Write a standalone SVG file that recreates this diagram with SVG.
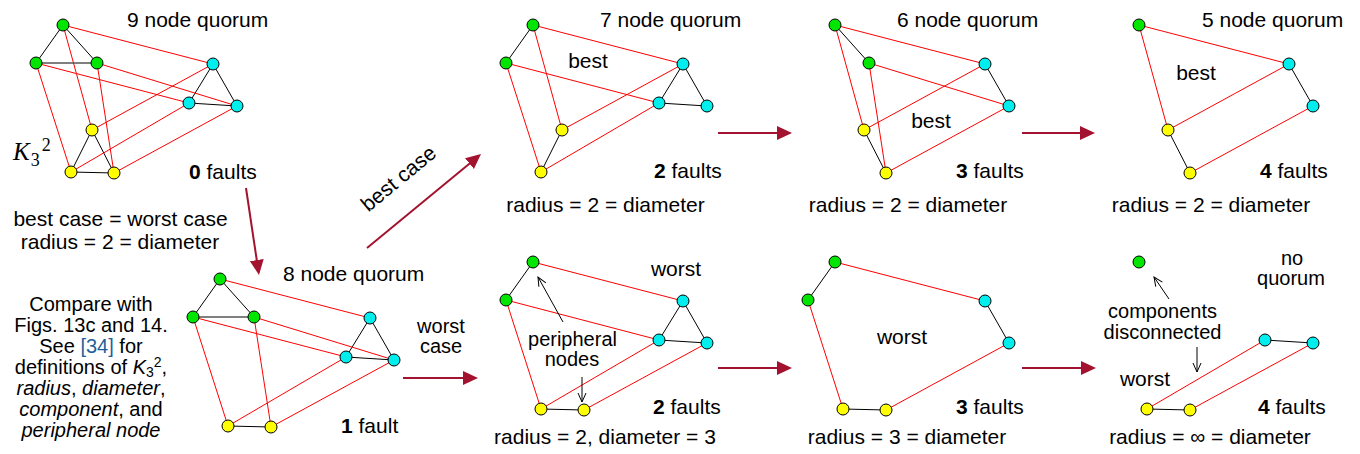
<svg xmlns="http://www.w3.org/2000/svg" width="1360" height="454" viewBox="0 0 1360 454">
<style>
text{font-family:"Liberation Sans",Arial,sans-serif;font-size:21px;fill:#000}
.s{font-size:20px}
.m{text-anchor:middle}
.b{font-weight:bold}
.i{font-style:italic}
.r{stroke:#ff0000;stroke-width:1;fill:none}
.bl{stroke:#000;stroke-width:1;fill:none}
.g{fill:#00e600;stroke:#000;stroke-width:1}
.c{fill:#00eeee;stroke:#000;stroke-width:1}
.y{fill:#ffff00;stroke:#000;stroke-width:1}
.arr{stroke:#a3122e;stroke-width:2;fill:none;marker-end:url(#ah)}
.ann{stroke:#000;stroke-width:1;fill:none;marker-end:url(#oa)}
</style>
<defs>
<marker id="ah" markerUnits="userSpaceOnUse" markerWidth="16" markerHeight="16" viewBox="0 0 16 16" refX="5" refY="8" orient="auto"><path d="M0,1 L15,8 L0,15 z" fill="#a3122e"/></marker>
<marker id="oa" markerUnits="userSpaceOnUse" markerWidth="12" markerHeight="10" viewBox="0 0 12 10" refX="10" refY="5" orient="auto"><path d="M1,1 L10,5 L1,9" fill="none" stroke="#000" stroke-width="1"/></marker>
</defs>
<rect width="1360" height="454" fill="#fff"/>

<g id="connectors">
 <g transform="translate(0,0)">
  <line class="bl" x1="63" y1="25" x2="36" y2="63"/><line class="bl" x1="63" y1="25" x2="97" y2="63"/><line class="bl" x1="36" y1="63" x2="97" y2="63"/>
  <line class="bl" x1="213" y1="64" x2="189" y2="103"/><line class="bl" x1="213" y1="64" x2="237" y2="106"/><line class="bl" x1="189" y1="103" x2="237" y2="106"/>
  <line class="bl" x1="92" y1="130" x2="71" y2="172"/><line class="bl" x1="92" y1="130" x2="114" y2="173"/><line class="bl" x1="71" y1="172" x2="114" y2="173"/>
  <line class="r" x1="63" y1="25" x2="213" y2="64"/><line class="r" x1="63" y1="25" x2="92" y2="130"/><line class="r" x1="213" y1="64" x2="92" y2="130"/>
  <line class="r" x1="36" y1="63" x2="189" y2="103"/><line class="r" x1="36" y1="63" x2="71" y2="172"/><line class="r" x1="189" y1="103" x2="71" y2="172"/>
  <line class="r" x1="97" y1="63" x2="237" y2="106"/><line class="r" x1="97" y1="63" x2="114" y2="173"/><line class="r" x1="237" y1="106" x2="114" y2="173"/>
 </g>
 <g transform="translate(157,254)">
  <line class="bl" x1="63" y1="25" x2="36" y2="63"/><line class="bl" x1="63" y1="25" x2="97" y2="63"/><line class="bl" x1="36" y1="63" x2="97" y2="63"/>
  <line class="bl" x1="213" y1="64" x2="189" y2="103"/><line class="bl" x1="213" y1="64" x2="237" y2="106"/><line class="bl" x1="189" y1="103" x2="237" y2="106"/>
  <line class="bl" x1="71" y1="172" x2="114" y2="173"/>
  <line class="r" x1="63" y1="25" x2="213" y2="64"/>
  <line class="r" x1="36" y1="63" x2="189" y2="103"/><line class="r" x1="36" y1="63" x2="71" y2="172"/><line class="r" x1="189" y1="103" x2="71" y2="172"/>
  <line class="r" x1="97" y1="63" x2="237" y2="106"/><line class="r" x1="97" y1="63" x2="114" y2="173"/><line class="r" x1="237" y1="106" x2="114" y2="173"/>
 </g>
 <g transform="translate(470,0)">
  <line class="bl" x1="63" y1="25" x2="36" y2="63"/>
  <line class="bl" x1="213" y1="64" x2="189" y2="103"/><line class="bl" x1="213" y1="64" x2="237" y2="106"/><line class="bl" x1="189" y1="103" x2="237" y2="106"/>
  <line class="bl" x1="92" y1="130" x2="71" y2="172"/>
  <line class="r" x1="63" y1="25" x2="213" y2="64"/><line class="r" x1="63" y1="25" x2="92" y2="130"/><line class="r" x1="213" y1="64" x2="92" y2="130"/>
  <line class="r" x1="36" y1="63" x2="189" y2="103"/><line class="r" x1="36" y1="63" x2="71" y2="172"/><line class="r" x1="189" y1="103" x2="71" y2="172"/>
 </g>
 <g transform="translate(772,0)">
  <line class="bl" x1="63" y1="25" x2="97" y2="63"/>
  <line class="bl" x1="213" y1="64" x2="237" y2="106"/>
  <line class="bl" x1="92" y1="130" x2="114" y2="173"/>
  <line class="r" x1="63" y1="25" x2="213" y2="64"/><line class="r" x1="63" y1="25" x2="92" y2="130"/><line class="r" x1="213" y1="64" x2="92" y2="130"/>
  <line class="r" x1="97" y1="63" x2="237" y2="106"/><line class="r" x1="97" y1="63" x2="114" y2="173"/><line class="r" x1="237" y1="106" x2="114" y2="173"/>
 </g>
 <g transform="translate(1076,0)">
  <line class="bl" x1="213" y1="64" x2="237" y2="106"/>
  <line class="bl" x1="92" y1="130" x2="114" y2="173"/>
  <line class="r" x1="63" y1="25" x2="213" y2="64"/><line class="r" x1="63" y1="25" x2="92" y2="130"/><line class="r" x1="213" y1="64" x2="92" y2="130"/>
  <line class="r" x1="237" y1="106" x2="114" y2="173"/>
 </g>
 <g transform="translate(470,237)">
  <line class="bl" x1="63" y1="25" x2="36" y2="63"/>
  <line class="bl" x1="213" y1="64" x2="189" y2="103"/><line class="bl" x1="213" y1="64" x2="237" y2="106"/><line class="bl" x1="189" y1="103" x2="237" y2="106"/>
  <line class="bl" x1="71" y1="172" x2="114" y2="173"/>
  <line class="r" x1="63" y1="25" x2="213" y2="64"/>
  <line class="r" x1="36" y1="63" x2="189" y2="103"/><line class="r" x1="36" y1="63" x2="71" y2="172"/><line class="r" x1="189" y1="103" x2="71" y2="172"/>
  <line class="r" x1="237" y1="106" x2="114" y2="173"/>
 </g>
 <g transform="translate(772,237)">
  <line class="bl" x1="63" y1="25" x2="36" y2="63"/>
  <line class="bl" x1="213" y1="64" x2="237" y2="106"/>
  <line class="bl" x1="71" y1="172" x2="114" y2="173"/>
  <line class="r" x1="63" y1="25" x2="213" y2="64"/>
  <line class="r" x1="36" y1="63" x2="71" y2="172"/>
  <line class="r" x1="237" y1="106" x2="114" y2="173"/>
 </g>
 <g transform="translate(1076,237)">
  <line class="bl" x1="189" y1="103" x2="237" y2="106"/>
  <line class="bl" x1="71" y1="172" x2="114" y2="173"/>
  <line class="r" x1="189" y1="103" x2="71" y2="172"/>
  <line class="r" x1="237" y1="106" x2="114" y2="173"/>
 </g>
 <line class="arr" x1="246" y1="188" x2="257.5" y2="265"/>
 <line class="arr" x1="367" y1="248" x2="473.3" y2="160.4"/>
 <line class="arr" x1="403" y1="378" x2="468" y2="378"/>
 <line class="arr" x1="718" y1="133" x2="782" y2="133"/>
 <line class="arr" x1="1022" y1="133" x2="1085" y2="133"/>
 <line class="arr" x1="718" y1="368" x2="782" y2="368"/>
 <line class="arr" x1="1022" y1="368" x2="1086" y2="368"/>
 <line class="ann" x1="563" y1="322" x2="538" y2="277"/>
 <line class="ann" x1="582" y1="377" x2="582" y2="402"/>
 <line class="ann" x1="1169" y1="299" x2="1154" y2="277"/>
 <line class="ann" x1="1197" y1="347" x2="1197" y2="372"/>
</g>

<g id="q9" transform="translate(0,0)">
 <g id="q9-g1"><circle class="g" cx="63" cy="25" r="6"/></g>
 <g id="q9-g2"><circle class="g" cx="36" cy="63" r="6"/></g>
 <g id="q9-g3"><circle class="g" cx="97" cy="63" r="6"/></g>
 <g id="q9-c1"><circle class="c" cx="213" cy="64" r="6"/></g>
 <g id="q9-c2"><circle class="c" cx="189" cy="103" r="6"/></g>
 <g id="q9-c3"><circle class="c" cx="237" cy="106" r="6"/></g>
 <g id="q9-y1"><circle class="y" cx="92" cy="130" r="6"/></g>
 <g id="q9-y2"><circle class="y" cx="71" cy="172" r="6"/></g>
 <g id="q9-y3"><circle class="y" cx="114" cy="173" r="6"/></g>
</g>
<g id="q8" transform="translate(157,254)">
 <g id="q8-g1"><circle class="g" cx="63" cy="25" r="6"/></g>
 <g id="q8-g2"><circle class="g" cx="36" cy="63" r="6"/></g>
 <g id="q8-g3"><circle class="g" cx="97" cy="63" r="6"/></g>
 <g id="q8-c1"><circle class="c" cx="213" cy="64" r="6"/></g>
 <g id="q8-c2"><circle class="c" cx="189" cy="103" r="6"/></g>
 <g id="q8-c3"><circle class="c" cx="237" cy="106" r="6"/></g>
 <g id="q8-y2"><circle class="y" cx="71" cy="172" r="6"/></g>
 <g id="q8-y3"><circle class="y" cx="114" cy="173" r="6"/></g>
</g>
<g id="q7" transform="translate(470,0)">
 <g id="q7-g1"><circle class="g" cx="63" cy="25" r="6"/></g>
 <g id="q7-g2"><circle class="g" cx="36" cy="63" r="6"/></g>
 <g id="q7-c1"><circle class="c" cx="213" cy="64" r="6"/></g>
 <g id="q7-c2"><circle class="c" cx="189" cy="103" r="6"/></g>
 <g id="q7-c3"><circle class="c" cx="237" cy="106" r="6"/></g>
 <g id="q7-y1"><circle class="y" cx="92" cy="130" r="6"/></g>
 <g id="q7-y2"><circle class="y" cx="71" cy="172" r="6"/></g>
</g>
<g id="q6" transform="translate(772,0)">
 <g id="q6-g1"><circle class="g" cx="63" cy="25" r="6"/></g>
 <g id="q6-g3"><circle class="g" cx="97" cy="63" r="6"/></g>
 <g id="q6-c1"><circle class="c" cx="213" cy="64" r="6"/></g>
 <g id="q6-c3"><circle class="c" cx="237" cy="106" r="6"/></g>
 <g id="q6-y1"><circle class="y" cx="92" cy="130" r="6"/></g>
 <g id="q6-y3"><circle class="y" cx="114" cy="173" r="6"/></g>
</g>
<g id="q5" transform="translate(1076,0)">
 <g id="q5-g1"><circle class="g" cx="63" cy="25" r="6"/></g>
 <g id="q5-c1"><circle class="c" cx="213" cy="64" r="6"/></g>
 <g id="q5-c3"><circle class="c" cx="237" cy="106" r="6"/></g>
 <g id="q5-y1"><circle class="y" cx="92" cy="130" r="6"/></g>
 <g id="q5-y3"><circle class="y" cx="114" cy="173" r="6"/></g>
</g>
<g id="w7" transform="translate(470,237)">
 <g id="w7-g1"><circle class="g" cx="63" cy="25" r="6"/></g>
 <g id="w7-g2"><circle class="g" cx="36" cy="63" r="6"/></g>
 <g id="w7-c1"><circle class="c" cx="213" cy="64" r="6"/></g>
 <g id="w7-c2"><circle class="c" cx="189" cy="103" r="6"/></g>
 <g id="w7-c3"><circle class="c" cx="237" cy="106" r="6"/></g>
 <g id="w7-y2"><circle class="y" cx="71" cy="172" r="6"/></g>
 <g id="w7-y3"><circle class="y" cx="114" cy="173" r="6"/></g>
</g>
<g id="w6" transform="translate(772,237)">
 <g id="w6-g1"><circle class="g" cx="63" cy="25" r="6"/></g>
 <g id="w6-g2"><circle class="g" cx="36" cy="63" r="6"/></g>
 <g id="w6-c1"><circle class="c" cx="213" cy="64" r="6"/></g>
 <g id="w6-c3"><circle class="c" cx="237" cy="106" r="6"/></g>
 <g id="w6-y2"><circle class="y" cx="71" cy="172" r="6"/></g>
 <g id="w6-y3"><circle class="y" cx="114" cy="173" r="6"/></g>
</g>
<g id="w5" transform="translate(1076,237)">
 <g id="w5-g1"><circle class="g" cx="63" cy="25" r="6"/></g>
 <g id="w5-c2"><circle class="c" cx="189" cy="103" r="6"/></g>
 <g id="w5-c3"><circle class="c" cx="237" cy="106" r="6"/></g>
 <g id="w5-y2"><circle class="y" cx="71" cy="172" r="6"/></g>
 <g id="w5-y3"><circle class="y" cx="114" cy="173" r="6"/></g>
</g>

<g id="labels">
 <text x="127" y="27">9 node quorum</text>
 <text x="13" y="160" style="font-family:'Liberation Serif','Times New Roman',serif;font-style:italic;font-size:25px">K<tspan dx="1" dy="6" style="font-style:normal;font-size:18px">3</tspan><tspan dx="2" dy="-15" style="font-style:normal;font-size:18px">2</tspan></text>
 <text x="189" y="179"><tspan class="b">0</tspan> faults</text>
 <text class="m" x="120.5" y="226">best case = worst case</text>
 <text class="m" x="120" y="249">radius = 2 = diameter</text>
 <text class="m s" x="91" y="311">Compare with</text>
 <text class="m s" x="91" y="332">Figs. 13c and 14.</text>
 <text class="m s" x="91" y="353">See <tspan style="fill:#1f5f99">[34]</tspan> for</text>
 <text class="m s" x="91" y="374">definitions of <tspan class="i">K</tspan><tspan dy="3" style="font-size:14px">3</tspan><tspan dy="-10" style="font-size:14px">2</tspan><tspan dy="7">,</tspan></text>
 <text class="m s" x="91" y="395"><tspan class="i">radius</tspan>, <tspan class="i">diameter</tspan>,</text>
 <text class="m s" x="91" y="416"><tspan class="i">component</tspan>, and</text>
 <text class="m s i" x="91" y="437">peripheral node</text>
 <text x="283" y="281">8 node quorum</text>
 <text class="m s" x="441" y="333">worst</text>
 <text class="m s" x="441" y="353">case</text>
 <text x="341" y="433"><tspan class="b">1</tspan> fault</text>
 <text class="m" transform="translate(403,184) rotate(-39.5)">best case</text>
 <text x="600" y="27">7 node quorum</text>
 <text class="m" x="588" y="68">best</text>
 <text x="654" y="178"><tspan class="b">2</tspan> faults</text>
 <text class="m" x="605.5" y="212">radius = 2 = diameter</text>
 <text x="897" y="27">6 node quorum</text>
 <text class="m" x="931" y="128">best</text>
 <text x="956" y="178"><tspan class="b">3</tspan> faults</text>
 <text class="m" x="908" y="212">radius = 2 = diameter</text>
 <text x="1202" y="27">5 node quorum</text>
 <text class="m" x="1196" y="80">best</text>
 <text x="1260" y="178"><tspan class="b">4</tspan> faults</text>
 <text class="m" x="1211" y="212">radius = 2 = diameter</text>
 <text class="m" x="676" y="276">worst</text>
 <text class="m s" x="572.5" y="346">peripheral</text>
 <text class="m s" x="572" y="366">nodes</text>
 <text x="653" y="414"><tspan class="b">2</tspan> faults</text>
 <text class="m" x="605" y="444">radius = 2, diameter = 3</text>
 <text class="m" x="902" y="344">worst</text>
 <text x="956" y="414"><tspan class="b">3</tspan> faults</text>
 <text class="m" x="907" y="444">radius = 3 = diameter</text>
 <text class="m s" x="1292" y="265">no</text>
 <text class="m s" x="1291" y="285">quorum</text>
 <text class="m s" x="1162.5" y="318">components</text>
 <text class="m s" x="1162.5" y="339">disconnected</text>
 <text class="m" x="1145" y="386">worst</text>
 <text x="1258" y="414"><tspan class="b">4</tspan> faults</text>
 <text class="m" x="1210" y="444">radius = ∞ = diameter</text>
</g>
</svg>
